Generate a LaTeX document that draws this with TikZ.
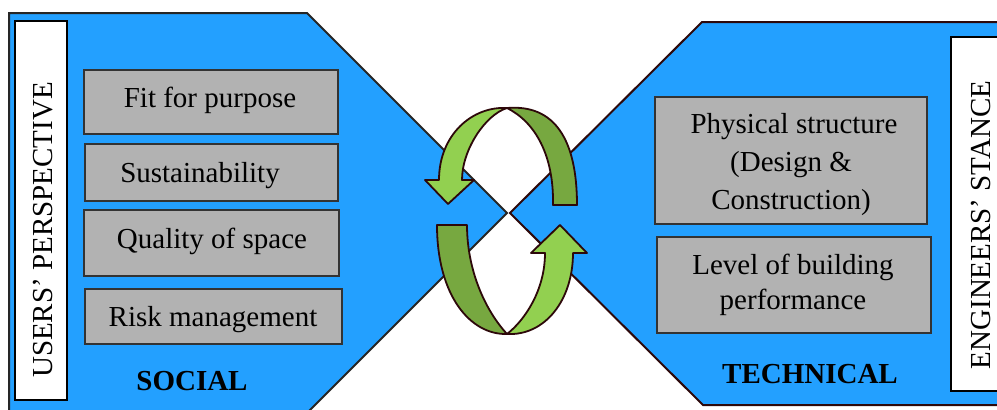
\documentclass[tikz,border=0pt]{standalone}
\usepackage{fontspec}
\setmainfont{Liberation Serif}
\definecolor{bluefill}{RGB}{35,160,255}
\definecolor{grayfill}{RGB}{178,178,178}
\definecolor{lightgreen}{RGB}{146,208,80}
\definecolor{darkgreen}{RGB}{119,168,64}
\definecolor{maroonline}{RGB}{45,8,10}
\begin{document}
\begin{tikzpicture}[x=1pt,y=-1pt,
  panelL/.style={fill=bluefill,draw=black!85,line width=2pt,line join=miter},
  panelR/.style={fill=bluefill,draw=maroonline,line width=2pt,line join=miter},
  whitebox/.style={draw=black,fill=white,line width=1.2pt,inner sep=0pt},
  graybox/.style={draw=black!80,fill=grayfill,line width=1.3pt,inner sep=0pt},
  lbl/.style={font=\fontsize{29}{36}\selectfont,inner sep=0pt,anchor=base},
  blbl/.style={font=\fontsize{29}{36}\selectfont\bfseries,inner sep=0pt,anchor=base},
  lightpart/.style={fill=lightgreen,draw=maroonline,line width=1.8pt,line join=round},
  darkpart/.style={fill=darkgreen,draw=maroonline,line width=1.8pt,line join=round}]
\useasboundingbox (0,0) rectangle (997,410);
\clip (0,0) rectangle (997,410);

% panels
\path[panelL] (9,13) -- (307,13) -- (507,213) -- (290,430) -- (9,430) -- cycle;
\path[panelR] (702,22) -- (1020,22) -- (1020,405) -- (703,405) -- (510,213) -- cycle;

% white side boxes
\node[whitebox,minimum width=52,minimum height=379] (wl) at (41,210.5) {};
\node[whitebox,minimum width=70,minimum height=354] (wr) at (986,214) {};
\node[lbl,rotate=90] (users) at (52,230) {USERS' PERSPECTIVE};
\node[lbl,rotate=90] (eng) at (990,225) {ENGINEERS' STANCE};

% left gray boxes
\node[graybox,minimum width=254,minimum height=64] (b1) at (211,102) {};
\node[graybox,minimum width=253,minimum height=57] (b2) at (211.5,172.5) {};
\node[graybox,minimum width=255,minimum height=66] (b3) at (211.5,243) {};
\node[graybox,minimum width=257,minimum height=55] (b4) at (213.5,316.5) {};
\node[lbl] (t1) at (210,107) {Fit for purpose};
\node[lbl] (t2) at (200,182) {Sustainability};
\node[lbl] (t3) at (212,248) {Quality of space};
\node[lbl] (t4) at (213,326) {Risk management};
\node[blbl] (social) at (192,390) {SOCIAL};

% right gray boxes
\node[graybox,minimum width=272,minimum height=127] (r1) at (791,160.5) {};
\node[graybox,minimum width=274,minimum height=96] (r2) at (794,285) {};
\node[lbl] (r1a) at (794,133) {Physical structure};
\node[lbl] (r1b) at (791,171.5) {(Design \&};
\node[lbl] (r1c) at (791,209) {Construction)};
\node[lbl] (r2a) at (793,274) {Level of building};
\node[lbl] (r2b) at (793,309) {performance};
\node[blbl] (tech) at (810,383) {TECHNICAL};

% cycle arrows: top
\path[lightpart] (507,108) .. controls (472,106) and (439,135) .. (439,180)
  -- (425,180) -- (448,204) -- (474,180) -- (462,180)
  .. controls (462,150) and (485,115) .. (507,108) -- cycle;
\path[darkpart] (507,108) .. controls (555,104) and (577,140) .. (577,205)
  -- (553,205) .. controls (554,155) and (535,122) .. (507,108) -- cycle;
% cycle arrows: bottom
\path[darkpart] (437,225) -- (467,225) .. controls (467,270) and (485,310) .. (507,334)
  .. controls (470,335) and (437,295) .. (437,225) -- cycle;
\path[lightpart] (507,334) .. controls (545,336) and (573,300) .. (573,253)
  -- (587,253) -- (560,225) -- (531,253) -- (545,253)
  .. controls (545,290) and (525,320) .. (507,334) -- cycle;
\end{tikzpicture}
\end{document}
